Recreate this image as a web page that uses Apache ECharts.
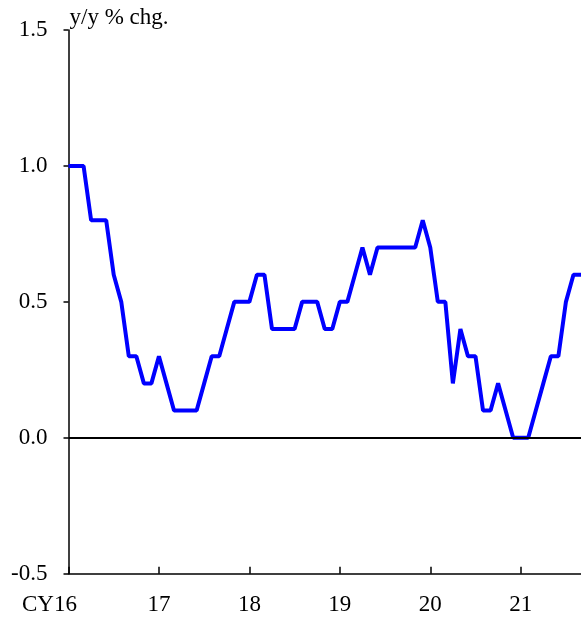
<!DOCTYPE html>
<html><head><meta charset="utf-8">
<script src="https://cdn.jsdelivr.net/npm/echarts@6/dist/echarts.min.js"></script>
<style>html,body{margin:0;padding:0;background:#fff}#c{width:581px;height:619px}</style>
</head><body><div id="c"></div>
<script>
const months = [];
for (let y = 2016; y <= 2021; y++) for (let m = 1; m <= 12; m++) { if (y === 2021 && m > 9) break; months.push(y + '-' + String(m).padStart(2, '0')); }
const yearLabels = {'2016-01':'CY16','2017-01':'17','2018-01':'18','2019-01':'19','2020-01':'20','2021-01':'21'};
const values2016 = [1.0,1.0,1.0,0.8,0.8,0.8,0.6,0.5,0.3,0.3,0.2,0.2];
const values2017 = [0.3,0.2,0.1,0.1,0.1,0.1,0.2,0.3,0.3,0.4,0.5,0.5];
const values2018 = [0.5,0.6,0.6,0.4,0.4,0.4,0.4,0.5,0.5,0.5,0.4,0.4];
const values2019 = [0.5,0.5,0.6,0.7,0.6,0.7,0.7,0.7,0.7,0.7,0.7,0.8];
const values2020 = [0.7,0.5,0.5,0.2,0.4,0.3,0.3,0.1,0.1,0.2,0.1,0.0];
const values2021 = [0.0,0.0,0.1,0.2,0.3,0.3,0.5,0.6,0.6];
const values = [].concat(values2016, values2017, values2018, values2019, values2020, values2021);

const font = 'Liberation Serif';
const fs = 23;
const chart = echarts.init(document.getElementById('c'));
chart.setOption({
  animation: false,
  grid: {left: 68.5, right: -1.5, top: 30, bottom: 45.3, containLabel: false},
  xAxis: {
    type: 'category', data: months, boundaryGap: false,
    axisLine: {onZero: false, lineStyle: {color: '#000', width: 1.5}},
    axisTick: {inside: true, length: 7, interval: 11, lineStyle: {color: '#000', width: 1.5}},
    axisLabel: {
      interval: 11, margin: 20, color: '#000', fontFamily: font, fontSize: fs,
      formatter: v => v === '2016-01' ? '{a|CY16}' : (yearLabels[v] || ''),
      rich: {a: {fontFamily: font, fontSize: fs, color: '#000', padding: [0, 38, 0, 0]}}
    },
    splitLine: {show: false}
  },
  yAxis: {
    type: 'value', min: -0.5, max: 1.5, interval: 0.5,
    name: 'y/y % chg.', nameLocation: 'end', nameGap: 1,
    nameTextStyle: {fontFamily: font, fontSize: 23, color: '#000', align: 'left', padding: [0, 0, 0, 1]},
    axisLine: {show: true, lineStyle: {color: '#000', width: 1.5}},
    axisTick: {show: true, length: 5, lineStyle: {color: '#000', width: 1.5}},
    axisLabel: {margin: 21, color: '#000', fontFamily: font, fontSize: fs, formatter: v => v.toFixed(1)},
    splitLine: {show: false}
  },
  series: [{
    type: 'line', data: values, showSymbol: false, symbol: 'none',
    lineStyle: {color: '#0000ff', width: 4},
    markLine: {silent: true, symbol: 'none', label: {show: false},
      lineStyle: {color: '#000', width: 2, type: 'solid'}, data: [{yAxis: 0}]}
  }]
});
</script></body></html>
